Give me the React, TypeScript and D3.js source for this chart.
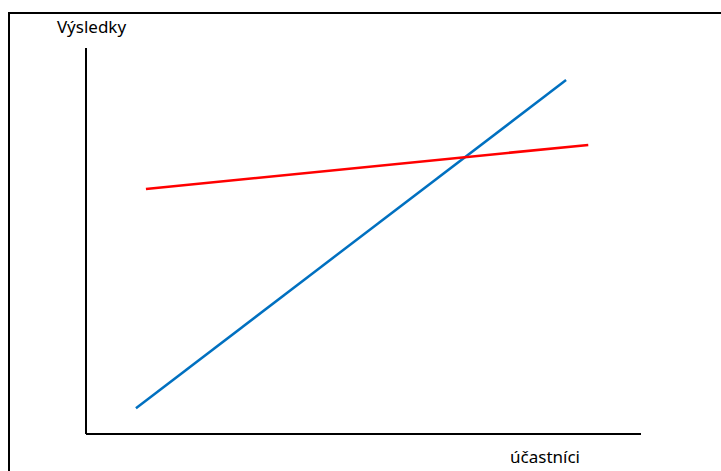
import * as d3 from "d3";
import { useEffect, useRef } from "react";

// two straight lines, each given by its start and end point (abstract units 0..10)
const xValues = [0.9, 8.65];
const blueValues = [0.67, 9.17];
const redX = [1.08, 9.05];
const redValues = [6.35, 7.49];

const yTitle = "Výsledky";
const xTitle = "účastníci";

const W = 721;
const H = 471;

const draw = (ref) => {
  const svg = d3.select(ref.current);
  svg.selectAll("*").remove();

  const x = d3.scaleLinear().domain([0, 10]).range([86, 641]);
  const y = d3.scaleLinear().domain([0, 10]).range([434, 48]);

  // outer frame, runs off the right and bottom of the picture
  svg.append("rect")
    .attr("x", 9).attr("y", 13)
    .attr("width", W + 20).attr("height", H + 20)
    .attr("fill", "none").attr("stroke", "#000").attr("stroke-width", 2);

  // axes, no ticks
  svg.append("line")
    .attr("x1", x(0)).attr("x2", x(0)).attr("y1", y(10)).attr("y2", y(0))
    .attr("stroke", "#000").attr("stroke-width", 2);
  svg.append("line")
    .attr("x1", x(0)).attr("x2", x(10)).attr("y1", y(0)).attr("y2", y(0))
    .attr("stroke", "#000").attr("stroke-width", 2);

  const line = d3.line().x(d => x(d[0])).y(d => y(d[1]));

  svg.append("path")
    .datum(d3.zip(xValues, blueValues))
    .attr("d", line)
    .attr("fill", "none").attr("stroke", "#0070c0").attr("stroke-width", 2.5);

  svg.append("path")
    .datum(d3.zip(redX, redValues))
    .attr("d", line)
    .attr("fill", "none").attr("stroke", "#ff0000").attr("stroke-width", 2.5);

  svg.append("text")
    .attr("x", 91.5).attr("y", 33)
    .attr("text-anchor", "middle")
    .attr("font-family", "'Noto Sans', sans-serif").attr("font-size", 17)
    .attr("fill", "#000")
    .text(yTitle);

  svg.append("text")
    .attr("x", 545).attr("y", 463)
    .attr("text-anchor", "middle")
    .attr("font-family", "'Noto Sans', sans-serif").attr("font-size", 17)
    .attr("fill", "#000")
    .text(xTitle);
};

export default function App() {
  const ref = useRef(null);
  useEffect(() => {
    draw(ref);
  }, []);
  return (
    <svg ref={ref} width={W} height={H}
      style={{ position: "absolute", left: 0, top: 0, background: "#fff" }} />
  );
}
